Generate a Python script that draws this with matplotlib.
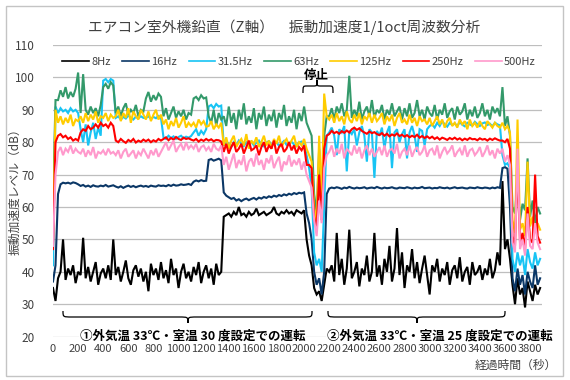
import matplotlib
matplotlib.use('Agg')
import matplotlib.pyplot as plt
from matplotlib.path import Path
from matplotlib.patches import PathPatch, Rectangle
from matplotlib.transforms import Affine2D

plt.rcParams['font.family'] = ['Noto Sans CJK JP', 'DejaVu Sans']

title = 'エアコン室外機鉛直（Z軸）　振動加速度1/1oct周波数分析'
ylabel = '振動加速度レベル（dB）'
xlabel = '経過時間（秒）'
note_run1 = '①外気温 33℃・室温 30 度設定での運転'
note_run2 = '②外気温 33℃・室温 25 度設定での運転'
note_stop = '停止'

labels = ['8Hz', '16Hz', '31.5Hz', '63Hz', '125Hz', '250Hz', '500Hz']
colors = ['#000000', '#0B3766', '#18C4F4', '#33996A', '#FFCC00', '#FF0000', '#FF99CC']

# elapsed time (s), one reading every 20 s
time_s = list(range(0, 3900, 20))

hz8 = [35, 31,
       38, 40, 50, 37.5, 41, 39, 42, 36.5, 40,
       39, 50.5, 38, 41.5, 37, 40, 43, 36, 39.5,
       41, 38, 42, 37.5, 50,
       39, 41.5, 37, 40, 43.5, 38, 36, 40.5, 42, 38.5, 41, 37,
       40, 34, 42.5, 39, 41, 37.5, 43,
       38, 40.5, 36.5, 44, 39, 41, 35, 40, 42.5, 38, 40, 37,
       41.5, 39, 43, 36.5, 40, 42,
       38, 41, 36, 42.5, 39, 40,
       57, 57.5, 58, 57, 58.5, 57.5, 60, 57.5, 58, 57, 58.5, 57.5, 58, 59.5, 57.5, 58, 58.5,
       57.5, 58, 58.5, 60, 58, 57.5, 58.5, 58, 59, 58, 58.5, 57.5, 59, 58.5, 58, 59,
       50, 45, 42, 35, 33, 34, 31, 36,
       41,
       40, 42, 37, 52, 39, 44, 36, 41, 53, 38,
       40, 43, 35.5, 41, 39, 45, 37, 40, 52, 38.5,
       42, 36, 44, 40, 48, 37, 41, 53.5, 39, 46,
       35, 42, 40, 47, 38, 43, 36.5, 41, 45, 39,
       33, 42, 40, 44, 37, 41, 39, 43, 36, 40.5,
       42, 38, 44.5, 37, 40, 41.5, 36, 43, 39, 40,
       42, 37.5, 41, 39, 44, 38, 40.5, 46, 42,
       68, 47, 50, 44,
       36, 30, 38, 33, 35, 29, 37, 34, 31, 36, 33, 35]

hz16 = [37, 42,
        64, 67, 67.5, 67.3, 67.5, 67.2, 67.6, 67.4, 67,
        66.5, 66.8, 66.3, 66.6, 66.2, 66.7, 66.4, 66.3, 66.6,
        66.4, 66.8, 66.3, 66.5, 66.7,
        66.3, 66.0, 66.4, 65.9, 66.3, 66.6, 66.2, 66.5, 66.1, 66.4, 66.6, 66.3,
        66.5, 66.2, 66.6, 66.4, 66.3, 66.7, 66.5,
        66.6, 66.4, 66.8, 66.5, 66.9, 66.6, 66.7, 67.0, 66.8, 66.9, 67.1, 66.8,
        67.8, 68.2, 67.9, 68.3, 68.0, 68.1,
        74.5, 74.8, 74.3, 74.6, 74.9, 74.4,
        64.5, 63.5, 63, 62.5, 62.8, 62, 62.4, 61.8, 62.3, 62.6, 62.1, 62.5, 62.8, 62.3, 62.9, 62.6, 63.1,
        62.8, 63.3, 63, 63.5, 63.2, 63.7, 63.4, 63.9, 63.6, 64.1, 63.8, 64.3, 64, 64.4, 64.2, 64.5,
        58, 55, 50, 40, 36, 38, 33, 40,
        64,
        65.7, 66.0, 65.8, 66.1, 65.9, 65.6, 66.0, 65.8, 66.2, 65.9,
        65.7, 66.0, 65.8, 65.9, 66.1, 65.7, 65.9, 66.0, 65.8, 66.2,
        65.9, 65.7, 66.0, 65.8, 65.9, 66.1, 65.8, 65.7, 66.0, 65.9,
        65.8, 66.1, 65.9, 65.7, 66.0, 65.8, 65.9, 66.2, 65.8, 65.9,
        66.0, 65.7, 65.9, 65.8, 66.1, 65.9, 65.8, 66.0, 65.7, 65.9,
        66.1, 65.8, 65.9, 66.0, 65.8, 65.7, 66.0, 65.9, 65.8, 66.1,
        65.9, 65.8, 66.0, 65.9, 65.7, 66.0, 65.8, 66.1, 65.9,
        72, 72.3, 71.8, 60,
        38, 34, 41, 36, 39, 33, 40, 37, 35, 42, 36, 38]

hz31_5 = [42, 91,
          89, 90.5, 89.5, 90, 89, 90.5, 89.5, 90, 89,
          84, 80, 85.5, 79, 83, 86, 81, 84.5, 82,
          99, 99.5, 98.5, 99.5, 99,
          87.5, 88, 87, 87.8, 87.3, 88.2, 87.6, 87, 87.9, 87.4, 88, 87.5,
          87.5, 88, 87.2, 87.8, 87.4, 88.1, 87.6,
          81.5, 81, 82, 81.3, 81.8, 81, 81.6, 82, 81.2, 81.7, 81.4, 81.9,
          83, 84, 82, 83.5, 82.5, 84,
          91, 91.5, 90.5, 91.8, 91, 91.3,
          79, 80, 79.5, 78.5, 80, 79, 80.5, 79.5, 78.8, 80, 79.3, 80.2, 79, 79.8, 80.5, 79.2, 78.7,
          79.9, 80.3, 79.1, 79.7, 80, 78.9, 79.6, 80.4, 79.2, 79.8, 80.1, 79.3, 78.8, 79.9, 80.2, 79.5,
          76, 72, 66, 46, 42, 44, 40, 60,
          82,
          83, 84.5, 82, 76, 84, 83, 85, 71, 83.5, 82.5,
          84, 79, 83, 85, 82, 74, 84, 83, 69, 83.5,
          82, 84.5, 78, 83, 85, 72, 83, 84, 80, 82.5,
          84, 75, 83, 85, 82, 77, 84, 83.5, 79, 84,
          85, 85.5, 84.5, 86, 85, 86.5, 85.5, 84.8, 86, 85.3,
          85.8, 85, 86.2, 85.4, 84.9, 86, 85.5, 85.1, 86.3, 85.6,
          85, 85.8, 86.1, 85.3, 85.7, 84.9, 86, 85.5, 85.2,
          76, 73, 73.5, 72,
          44, 40, 46, 42, 45, 39, 47, 43, 41, 46, 42, 44]

hz63 = [62, 93,
        93, 96, 94, 97, 93.5, 95.5, 94, 96.5, 101.5,
        89, 101, 90, 88.5, 91, 89, 90.5, 88, 91.5,
        97, 98, 96.5, 98.5, 97.5,
        89, 91, 88, 90.5, 92, 88.5, 90, 89, 91.5, 88, 90, 89.5,
        93.5, 95.5, 92.5, 94.5, 93, 95, 94,
        88, 90.5, 87, 89, 91, 87.5, 89.5, 88, 90, 87, 89, 88.5,
        93.5, 94, 93, 94.5, 93.5, 93.8,
        88, 86, 90, 85, 89, 87,
        88, 85, 91, 86, 89, 84, 90, 87, 92, 85.5, 88, 86, 90.5, 84, 89, 87, 91,
        85, 88.5, 86.5, 90, 84.5, 89, 87, 91.5, 85, 88, 86, 90, 84, 89, 86.5, 91,
        86, 84, 82, 64, 58, 78, 60, 82,
        88,
        88, 90.5, 87, 91, 89, 92, 88, 90, 100.5, 87.5,
        90, 88, 92.5, 87, 89.5, 91, 88, 93, 87.5, 90,
        89, 91.5, 87, 90, 88.5, 92, 88, 89.5, 91, 87,
        90.5, 88, 92, 87.5, 89, 93, 88, 90, 87, 91,
        89, 88, 91.5, 87, 90, 88.5, 92, 87.5, 89.5, 90.5,
        87, 91, 88.5, 89.5, 92, 87, 90, 88, 91, 87.5,
        89, 92, 88, 90, 87, 91, 89, 90.5, 88,
        97, 85, 88, 82,
        60, 58, 68, 56, 61, 59, 75, 57, 62, 55, 60, 58]

hz125 = [50, 90,
         86, 88, 85.5, 87.5, 86, 88.5, 85, 87, 86.5,
         88, 86, 89, 86.5, 88.5, 87, 89.5, 86, 88,
         87.5, 89, 86.5, 88.5, 87.5,
         88, 90, 86.5, 89, 87.5, 90.5, 86, 89.5, 88, 87, 90, 88.5,
         87, 89.5, 86.5, 88.5, 90, 87, 88.5,
         85.5, 87, 84, 86.5, 85, 87.5, 84.5, 86, 88, 84.5, 86, 85,
         86, 84.5, 87, 85.5, 86.5, 84.8,
         85, 86.5, 84, 85.5, 84.5, 86,
         79, 81.5, 78, 80.5, 82, 78.5, 80, 81, 79, 82.5, 78, 80.5, 79.5, 81.5, 78.5, 80, 82,
         79, 80.5, 78, 81, 79.5, 82, 78.5, 80, 81, 79, 80.5, 82, 78.5, 80, 79, 81,
         78, 76, 74, 60, 55, 82, 62, 95,
         88,
         87, 88.5, 86, 89, 86.5, 88, 85.5, 89.5, 87, 86,
         88.5, 86.5, 89, 85.5, 88, 87, 89, 86, 88.5, 86.5,
         87.5, 89, 85.5, 88, 86.5, 88.5, 85, 87.5, 89, 86,
         87, 85.5, 88.5, 86, 87.5, 85, 88, 86.5, 87, 85.5,
         87.5, 85, 86.5, 88, 85.5, 87, 84.5, 86.5, 87.5, 85,
         86, 84.5, 87, 85.5, 86.5, 84, 87, 85, 86, 84.5,
         86.5, 85, 84, 86.5, 85.5, 84.5, 86, 85, 84.5,
         86, 84, 85, 83,
         56, 52, 87, 53, 55, 51, 74, 54, 57, 52, 55, 53]

hz250 = [47, 80,
         82, 82.5, 81.5, 82, 81, 81.5, 80.5, 81, 80.5,
         83, 84, 83.5, 85, 84, 84.5, 85.5, 84.5, 86,
         85, 85.5, 84.5, 86, 85,
         80.5, 80, 81, 80.3, 79.8, 80.7, 80.2, 81, 79.9, 80.5, 80.1, 80.8,
         80.3, 80.8, 80, 80.6, 80.2, 81, 80.5,
         81, 81.5, 80.6, 81.3, 80.8, 81.6, 81, 80.7, 81.4, 81, 81.2, 80.8,
         80.5, 81, 80.2, 80.8, 80.4, 81,
         80.5, 80.9, 80.3, 80.7, 80.6, 80.2,
         77, 79.5, 76.5, 78.5, 80, 77, 78, 79.5, 76.5, 78.5, 80.5, 77.5, 78, 79, 76, 78.5, 80,
         77, 79, 78, 80.5, 76.5, 78.5, 79.5, 77, 78, 80, 77.5, 79, 76.5, 78.5, 77.5, 79,
         73, 73, 72, 57, 53, 70, 56, 78,
         82,
         82.5, 83.5, 82.8, 83.2, 82.6, 83.4, 82.9, 83.6, 83, 84,
         84.5, 83.8, 84.3, 83.5, 83, 82.6, 83.3, 82.8, 83.1, 82.5,
         82.2, 82.8, 82, 82.6, 81.8, 82.4, 82, 82.7, 81.9, 82.3,
         81.7, 82.2, 81.5, 82, 81.6, 82.3, 81.4, 81.9, 81.3, 81.8,
         81.2, 81.7, 81, 81.5, 80.8, 81.4, 81.1, 80.7, 81.3, 80.9,
         81.4, 80.8, 81.2, 80.6, 81.1, 80.7, 81.3, 80.9, 81, 80.6,
         81.2, 80.8, 81, 80.5, 81.1, 80.7, 81.2, 80.8, 80.5,
         80.5, 80, 81, 78,
         51, 48, 72, 49, 52, 47, 60, 50, 49, 70, 51, 49]

hz500 = [48, 70,
         77, 78.5, 76, 78, 77, 79, 76.5, 78, 77,
         76.5, 78, 75.5, 77.5, 76, 78.5, 75, 77, 76.5,
         77.5, 76, 78, 76.5, 77,
         76, 77.5, 75, 77, 78, 75.5, 76.5, 77.5, 75, 77, 76, 78,
         76.5, 75, 77.5, 76, 78, 75.5, 77,
         78.5, 80, 77.5, 79, 80.5, 77, 78.5, 79.5, 77.5, 80, 78, 79,
         78, 79.5, 77, 78.5, 79, 77.5,
         78.5, 77, 79.5, 78, 77.5, 79,
         73, 75.5, 71.5, 74, 76.5, 72, 74.5, 73, 76, 71, 74, 75, 72.5, 76.5, 73, 74.5, 71.5,
         75, 73.5, 76, 72, 74, 75.5, 71, 74, 73, 76, 72.5, 74.5, 73, 75, 71.5, 74,
         70, 68, 66, 56, 51, 62, 55, 72,
         76,
         77, 79, 75.5, 78, 76.5, 79.5, 75, 78, 77, 76,
         79, 76.5, 78.5, 75, 77.5, 79, 76, 78, 75.5, 77,
         78.5, 76, 79, 75.5, 77.5, 78, 76.5, 79.5, 75, 77,
         78, 76, 79, 75.5, 77.5, 78.5, 76, 77, 79, 75.5,
         77.5, 78, 76, 79, 75, 77, 78.5, 76.5, 77.5, 79,
         75.5, 77, 78, 76, 79, 75.5, 77.5, 78, 76, 77,
         78.5, 75.5, 77, 79, 76, 77.5, 75, 78, 76.5,
         78, 74, 76, 73,
         49, 46, 78, 47, 50, 45, 58, 48, 47, 55, 49, 47]

series = [hz8, hz16, hz31_5, hz63, hz125, hz250, hz500]
for s in series:
    assert len(s) == len(time_s), len(s)

W, H = 570, 380
fig = plt.figure(figsize=(W / 100, H / 100), dpi=100)
ax = fig.add_axes([53 / W, 1 - 336.6 / H, (542 - 53) / W, (336.6 - 45) / H])

for lab, col, vals in zip(labels, colors, series):
    ax.plot(time_s, vals, color=col, lw=1.5, label=lab, solid_joinstyle='miter')

ax.set_xlim(0, 3895)
ax.set_ylim(20, 110)
ax.set_yticks(range(20, 111, 10))
ax.set_xticks(range(0, 3801, 200))
ax.yaxis.grid(True, color='#BEBEBE', lw=0.9)
ax.set_axisbelow(True)
for sp in ax.spines.values():
    sp.set_visible(False)
ax.tick_params(axis='both', length=0, labelsize=8, colors='#404040')
ax.tick_params(axis='y', pad=13, labelsize=8.5)
ax.tick_params(axis='x', pad=5)

leg = ax.legend(loc='center', bbox_to_anchor=(299 / W, 1 - 61.7 / H), bbox_transform=fig.transFigure,
                ncol=7, frameon=False, fontsize=8, handlelength=2.4, handletextpad=0.2,
                columnspacing=1.05, borderpad=0, borderaxespad=0)
for txt in leg.get_texts():
    txt.set_color('#404040')
for ln in leg.get_lines():
    ln.set_linewidth(1.2)

px = Affine2D().scale(1 / W, -1 / H).translate(0, 1) + fig.transFigure

fig.text(284 / W, 1 - 27 / H, title, ha='center', va='center', fontsize=10.6, color='#404040')
fig.text(15 / W, 1 - 189 / H, ylabel, ha='center', va='center', rotation=90, fontsize=8.5, color='#404040')
fig.text(557 / W, 1 - 365 / H, xlabel, ha='right', va='center', fontsize=8.5, color='#404040')

bb = dict(facecolor='white', edgecolor='none', pad=0.5)
fig.text(80 / W, 1 - 336 / H, note_run1, ha='left', va='center', fontsize=9, fontweight='bold', bbox=bb)
fig.text(327 / W, 1 - 336 / H, note_run2, ha='left', va='center', fontsize=9, fontweight='bold', bbox=bb)
fig.text(316 / W, 1 - 75 / H, note_stop, ha='center', va='center', fontsize=9, fontweight='bold')


def brace(x0, x1, xc, y0, ym, yt, r):
    verts = [(x0, y0), (x0, ym), (x0, ym), (x0 + r, ym),
             (xc - r, ym), (xc, ym), (xc, ym), (xc, yt),
             (xc, ym), (xc, ym), (xc + r, ym),
             (x1 - r, ym), (x1, ym), (x1, ym), (x1, y0)]
    codes = [Path.MOVETO, Path.CURVE4, Path.CURVE4, Path.CURVE4,
             Path.LINETO, Path.CURVE4, Path.CURVE4, Path.CURVE4,
             Path.CURVE4, Path.CURVE4, Path.CURVE4,
             Path.LINETO, Path.CURVE4, Path.CURVE4, Path.CURVE4]
    fig.patches.append(PathPatch(Path(verts, codes), transform=px, fill=False, lw=0.9, color='black'))


brace(63, 312, 188, 311, 317, 323, 9)
brace(328, 505, 417, 311, 317, 323, 9)
brace(303, 333, 317, 93, 86, 80, 4)

fig.patches.append(Rectangle((5.5, 5.5), 557.5, 370, transform=px, fill=False, lw=1, edgecolor='#C4C4C4'))

fig.savefig('out.png', dpi=100)
